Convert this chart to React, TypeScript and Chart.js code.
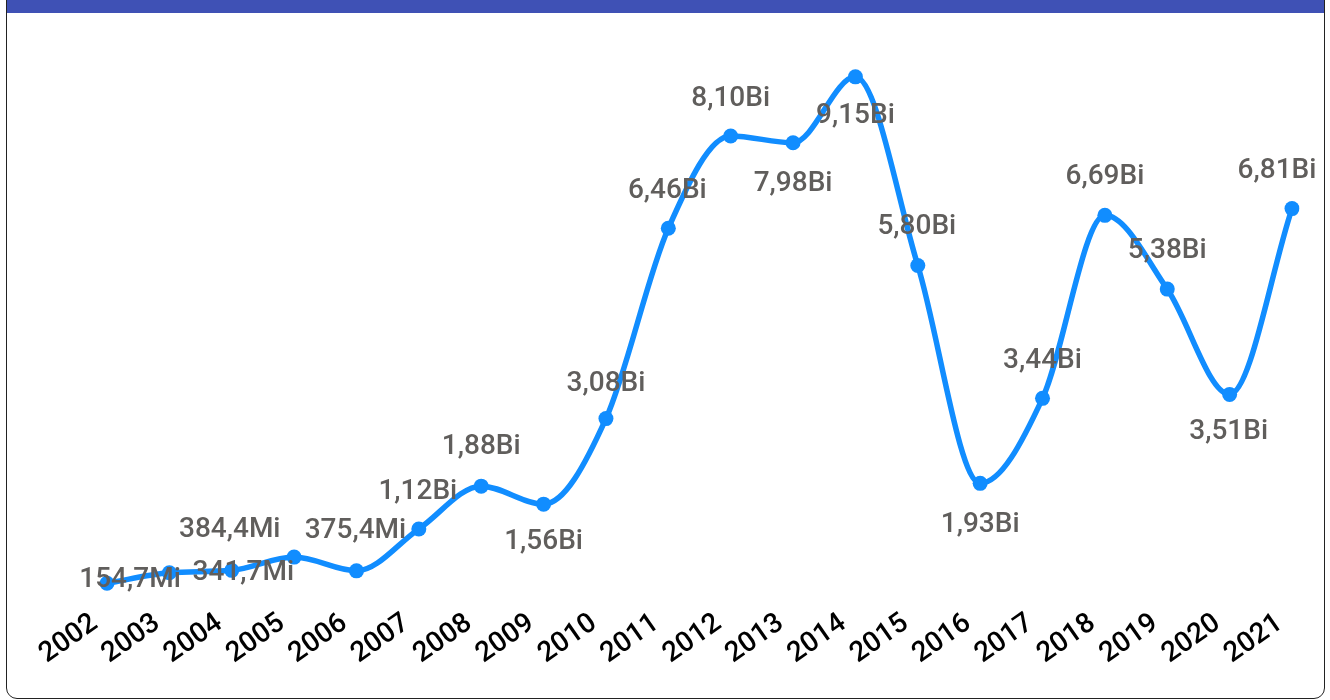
import React, { useEffect, useRef } from "react";
import { Chart, registerables } from "chart.js";

Chart.register(...registerables);

const years = ["2002","2003","2004","2005","2006","2007","2008","2009","2010","2011","2012","2013","2014","2015","2016","2017","2018","2019","2020","2021"];
// values in billions
const values = [0.1547, 0.3417, 0.3844, 0.62, 0.3754, 1.12, 1.88, 1.56, 3.08, 6.46, 8.10, 7.98, 9.15, 5.80, 1.93, 3.44, 6.69, 5.38, 3.51, 6.81];
const valueLabels = ["154,7Mi","341,7Mi","384,4Mi","","375,4Mi","1,12Bi","1,88Bi","1,56Bi","3,08Bi","6,46Bi","8,10Bi","7,98Bi","9,15Bi","5,80Bi","1,93Bi","3,44Bi","6,69Bi","5,38Bi","3,51Bi","6,81Bi"];
// label placement relative to each point (px)
const labelDx = [23, 74, -2, 0, -1, -1, 0, 0, 0, -1, 0, 0, 0, -1, 0, 0, 0, 0, -1, -15];
const labelDy = [-3, 0, -40, 0, -40, -37, -39, 38, -35, -37, -37, 41, 39, -38, 42, -37, -38, -38, 38, -38];

const LINE = "#118DFF";

const labelPlugin = {
  id: "valueLabels",
  afterDatasetsDraw(chart: any) {
    const meta = chart.getDatasetMeta(0);
    const ctx = chart.ctx;
    ctx.save();
    ctx.font = "500 28px Roboto";
    ctx.fillStyle = "#605E5C";
    ctx.textAlign = "center";
    ctx.textBaseline = "middle";
    meta.data.forEach((el: any, i: number) => {
      const t = valueLabels[i];
      if (!t) return;
      ctx.fillText(t, el.x + labelDx[i], el.y + labelDy[i]);
    });
    ctx.restore();
  },
};

export default function App() {
  const ref = useRef<HTMLCanvasElement | null>(null);
  useEffect(() => {
    if (!ref.current) return;
    const chart = new Chart(ref.current, {
      type: "line",
      data: {
        labels: years,
        datasets: [
          {
            data: values,
            borderColor: LINE,
            backgroundColor: LINE,
            borderWidth: 5.5,
            pointRadius: 7.5,
            pointBorderWidth: 0,
            pointBackgroundColor: LINE,
            cubicInterpolationMode: "monotone",
            fill: false,
          },
        ],
      },
      options: {
        responsive: false,
        animation: false,
        layout: { padding: { left: 107, right: 38, top: 29, bottom: 0 } },
        plugins: { legend: { display: false }, tooltip: { enabled: false }, title: { display: false } },
        scales: {
          y: { display: false, min: 0, max: 10 },
          x: {
            offset: false,
            grid: { display: false, drawTicks: false },
            border: { display: false },
            ticks: {
              color: "#000",
              font: { family: "Roboto", size: 28, weight: "500" },
              minRotation: 35,
              maxRotation: 35,
              autoSkip: false,
              padding: 15,
              labelOffset: -12,
            },
            afterFit: (scale: any) => {
              scale.height = 108;
            },
          },
        },
      },
      plugins: [labelPlugin],
    });
    return () => chart.destroy();
  }, []);

  return (
    <>
      <div
        style={{
          position: "fixed",
          left: 6,
          top: -40,
          width: 1319,
          height: 739,
          boxSizing: "border-box",
          border: "1px solid #222",
          borderRadius: 11,
          overflow: "hidden",
          background: "#fff",
        }}
      >
        <div style={{ height: 52, background: "#3F51B5" }} />
      </div>
      <canvas
        ref={ref}
        width={1330}
        height={700}
        style={{ position: "fixed", left: 0, top: 0, width: 1330, height: 700 }}
      />
    </>
  );
}
